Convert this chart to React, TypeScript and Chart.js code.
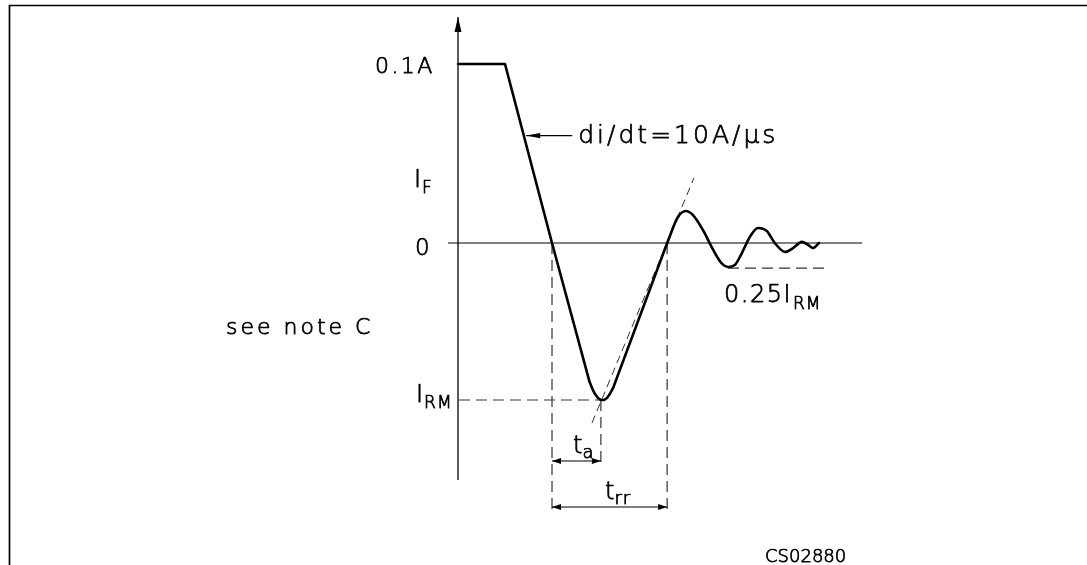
import React, { useEffect, useRef } from "react";
import { Chart, registerables } from "chart.js";

Chart.register(...registerables);

// ---- data (time in ns, current in A) ----
const RAMP_T = [0, 10, 20, 28.0, 28.7, 29.15, 29.8, 30.4, 31.1, 31.7, 32.3, 33.0, 44.5];
const RAMP_I = [0.1, 0.1, 0, -0.0777, -0.0821, -0.0844, -0.0866, -0.0877, -0.0877, -0.0866, -0.0844, -0.081, 0];
const RING_T = [44.5, 46.8, 48.5, 50.0, 52.1, 54.3, 56.2, 57.45, 58.9, 60.4, 62.1, 63.8, 65.7, 67.4, 69.6, 71.3, 73.2, 74.5, 75.5, 76.8];
const RING_I = [0, 0.0145, 0.0179, 0.0156, 0.0073, -0.0039, -0.0117, -0.0134, -0.0123, -0.0056, 0.0034, 0.0084, 0.0067, 0, -0.005, -0.0028, 0.0006, -0.0011, -0.0028, 0];
const ZERO_T = [-2.1, 86.0];
const AXIS_I = [-0.1324, 0.1263];
const I_RM = -0.0877;
const I_QUARTER = -0.014;
const T_ZERO = 20;
const T_A = 30.4;
const T_RR = 44.5;
const GUIDE_BOTTOM = -0.1508;
const TA_BOTTOM = -0.1223;
const IRM_GUIDE_T = [0.2, 30.4];
const QUARTER_GUIDE_T = [57.45, 78.3];
const TANGENT_T = [28.5, 50.2];
const TANGENT_I = [-0.1006, 0.0363];
const DIM_TA_I = -0.1218;
const DIM_TRR_I = -0.1475;
const DIDT_I = 0.06;
const DIDT_T = [14.5, 24.3];

const X_MIN = -97.45;
const X_MAX = 133.83;
const Y_MIN = -0.17989;
const Y_MAX = 0.13575;

const FONT = '"DejaVu Sans", "Liberation Sans", sans-serif';

const pts = (ts: number[], is: number[]) => ts.map((t, k) => ({ x: t, y: is[k] }));

function line(data: { x: number; y: number }[], extra: any = {}) {
  return {
    data,
    showLine: true,
    pointRadius: 0,
    borderColor: "#000",
    borderWidth: 1,
    fill: false,
    tension: 0,
    ...extra,
  };
}

function txt(ctx: CanvasRenderingContext2D, s: string, x: number, y: number, size: number, spacing = 0) {
  ctx.font = `200 ${size}px ${FONT}`;
  (ctx as any).letterSpacing = `${spacing}px`;
  ctx.textAlign = "left";
  ctx.textBaseline = "alphabetic";
  ctx.fillText(s, x, y);
  ctx.lineWidth = 0.75;
  ctx.strokeStyle = "#000";
  ctx.lineJoin = "round";
  ctx.strokeText(s, x, y);
  return ctx.measureText(s).width;
}

function sub(ctx: CanvasRenderingContext2D, main: string, s: string, x: number, y: number, size: number, subSize: number, dy: number, spacing = 0, gap = 0) {
  const w = txt(ctx, main, x, y, size, spacing);
  txt(ctx, s, x + w + gap, y + dy, subSize, 1);
}

function arrowHead(ctx: CanvasRenderingContext2D, tx: number, ty: number, dx: number, dy: number, len: number, half: number) {
  const bx = tx - dx * len;
  const by = ty - dy * len;
  ctx.beginPath();
  ctx.moveTo(tx, ty);
  ctx.lineTo(bx - dy * half, by + dx * half);
  ctx.lineTo(bx + dy * half, by - dx * half);
  ctx.closePath();
  ctx.fill();
}

const annotations = {
  id: "annotations",
  beforeDraw(chart: any) {
    const ctx: CanvasRenderingContext2D = chart.ctx;
    ctx.save();
    ctx.strokeStyle = "#000";
    ctx.lineWidth = 1.7;
    ctx.beginPath();
    ctx.moveTo(9.5, 565);
    ctx.lineTo(9.5, 5.5);
    ctx.lineTo(1087, 5.5);
    ctx.stroke();
    ctx.restore();
  },
  afterDatasetsDraw(chart: any) {
    const ctx: CanvasRenderingContext2D = chart.ctx;
    const xs = chart.scales.x;
    const ys = chart.scales.y;
    const px = (t: number) => xs.getPixelForValue(t);
    const py = (i: number) => ys.getPixelForValue(i);
    ctx.save();
    ctx.fillStyle = "#000";
    // axis arrow
    arrowHead(ctx, px(0), py(AXIS_I[1]), 0, -1, 15, 3.5);
    // di/dt arrow
    arrowHead(ctx, px(DIDT_T[0]), py(DIDT_I), -1, 0, 14, 2.6);
    // dimension arrows
    const hl = 9, hw = 3;
    arrowHead(ctx, px(T_ZERO), py(DIM_TA_I), -1, 0, hl, hw);
    arrowHead(ctx, px(T_A), py(DIM_TA_I), 1, 0, hl, hw);
    arrowHead(ctx, px(T_ZERO), py(DIM_TRR_I), -1, 0, hl, hw);
    arrowHead(ctx, px(T_RR), py(DIM_TRR_I), 1, 0, hl, hw);

    const ax = px(0);
    const zy = py(0);
    const ty = py(0.1);
    const ry = py(I_RM);
    txt(ctx, "0.1A", ax - 83, ty + 9, 22, 2.4);
    sub(ctx, "I", "F", ax - 44, zy - 56, 24, 17, 6, 0, 1);
    txt(ctx, "0", ax - 43, zy + 12, 23);
    txt(ctx, "see note C", 226, 334, 22, 3);
    sub(ctx, "I", "RM", ax - 42, ry + 2, 24, 17, 6, 0, 1);
    txt(ctx, "di/dt=10A/\u03bcs", px(DIDT_T[1]) + 6, py(DIDT_I) + 7, 25, 3);
    sub(ctx, "0.25I", "RM", px(QUARTER_GUIDE_T[0]) - 4, py(I_QUARTER) + 34, 24, 17, 7, 1.5, 1);
    sub(ctx, "t", "a", px(T_ZERO) + 21, py(DIM_TA_I) - 8, 24, 18, 5, 0, 0);
    sub(ctx, "t", "rr", px(T_ZERO) + 53, py(DIM_TRR_I) - 8, 24, 18, 5, 0, 0);
    txt(ctx, "CS02880", 765, 562, 18);
    ctx.restore();
  },
};

export default function App() {
  const ref = useRef<HTMLCanvasElement | null>(null);
  useEffect(() => {
    if (!ref.current) return;
    const dash = { borderDash: [11, 6], borderColor: "#333", borderWidth: 1.2, order: 5 };
    const chart = new Chart(ref.current, {
      type: "scatter",
      data: {
        datasets: [
          line(pts(RAMP_T, RAMP_I), { borderWidth: 2.6, order: 0, borderJoinStyle: "round", borderCapStyle: "round" }),
          line(pts(RING_T, RING_I), { borderWidth: 2.6, order: 0, cubicInterpolationMode: "monotone", borderCapStyle: "round" }),
          line(pts(ZERO_T, [0, 0]), { borderWidth: 1.1, order: 3 }),
          line(pts([0, 0], AXIS_I), { borderWidth: 1.3, order: 3 }),
          line(pts(IRM_GUIDE_T, [I_RM, I_RM]), dash),
          line(pts(QUARTER_GUIDE_T, [I_QUARTER, I_QUARTER]), dash),
          line(pts([T_ZERO, T_ZERO], [0, GUIDE_BOTTOM]), dash),
          line(pts([T_RR, T_RR], [0, GUIDE_BOTTOM]), dash),
          line(pts([T_A, T_A], [I_RM, TA_BOTTOM]), dash),
          line(pts(TANGENT_T, TANGENT_I), { borderDash: [8, 5], borderColor: "#333", borderWidth: 1, order: 4 }),
          line(pts([T_ZERO, T_A], [DIM_TA_I, DIM_TA_I]), { borderWidth: 1.2, order: 3 }),
          line(pts([T_ZERO, T_RR], [DIM_TRR_I, DIM_TRR_I]), { borderWidth: 1.2, order: 3 }),
          line(pts(DIDT_T, [DIDT_I, DIDT_I]), { borderWidth: 1.2, order: 3 }),
        ],
      },
      options: {
        animation: false,
        responsive: false,
        maintainAspectRatio: false,
        events: [],
        layout: { padding: 0 },
        plugins: { legend: { display: false }, tooltip: { enabled: false } },
        scales: {
          x: { type: "linear", min: X_MIN, max: X_MAX, display: false },
          y: { type: "linear", min: Y_MIN, max: Y_MAX, display: false },
        },
      },
      plugins: [annotations],
    } as any);
    return () => chart.destroy();
  }, []);
  return (
    <div style={{ position: "absolute", left: 0, top: 0, width: 1087, height: 565, background: "#fff" }}>
      <canvas ref={ref} width={1087} height={565} style={{ display: "block" }} />
    </div>
  );
}
